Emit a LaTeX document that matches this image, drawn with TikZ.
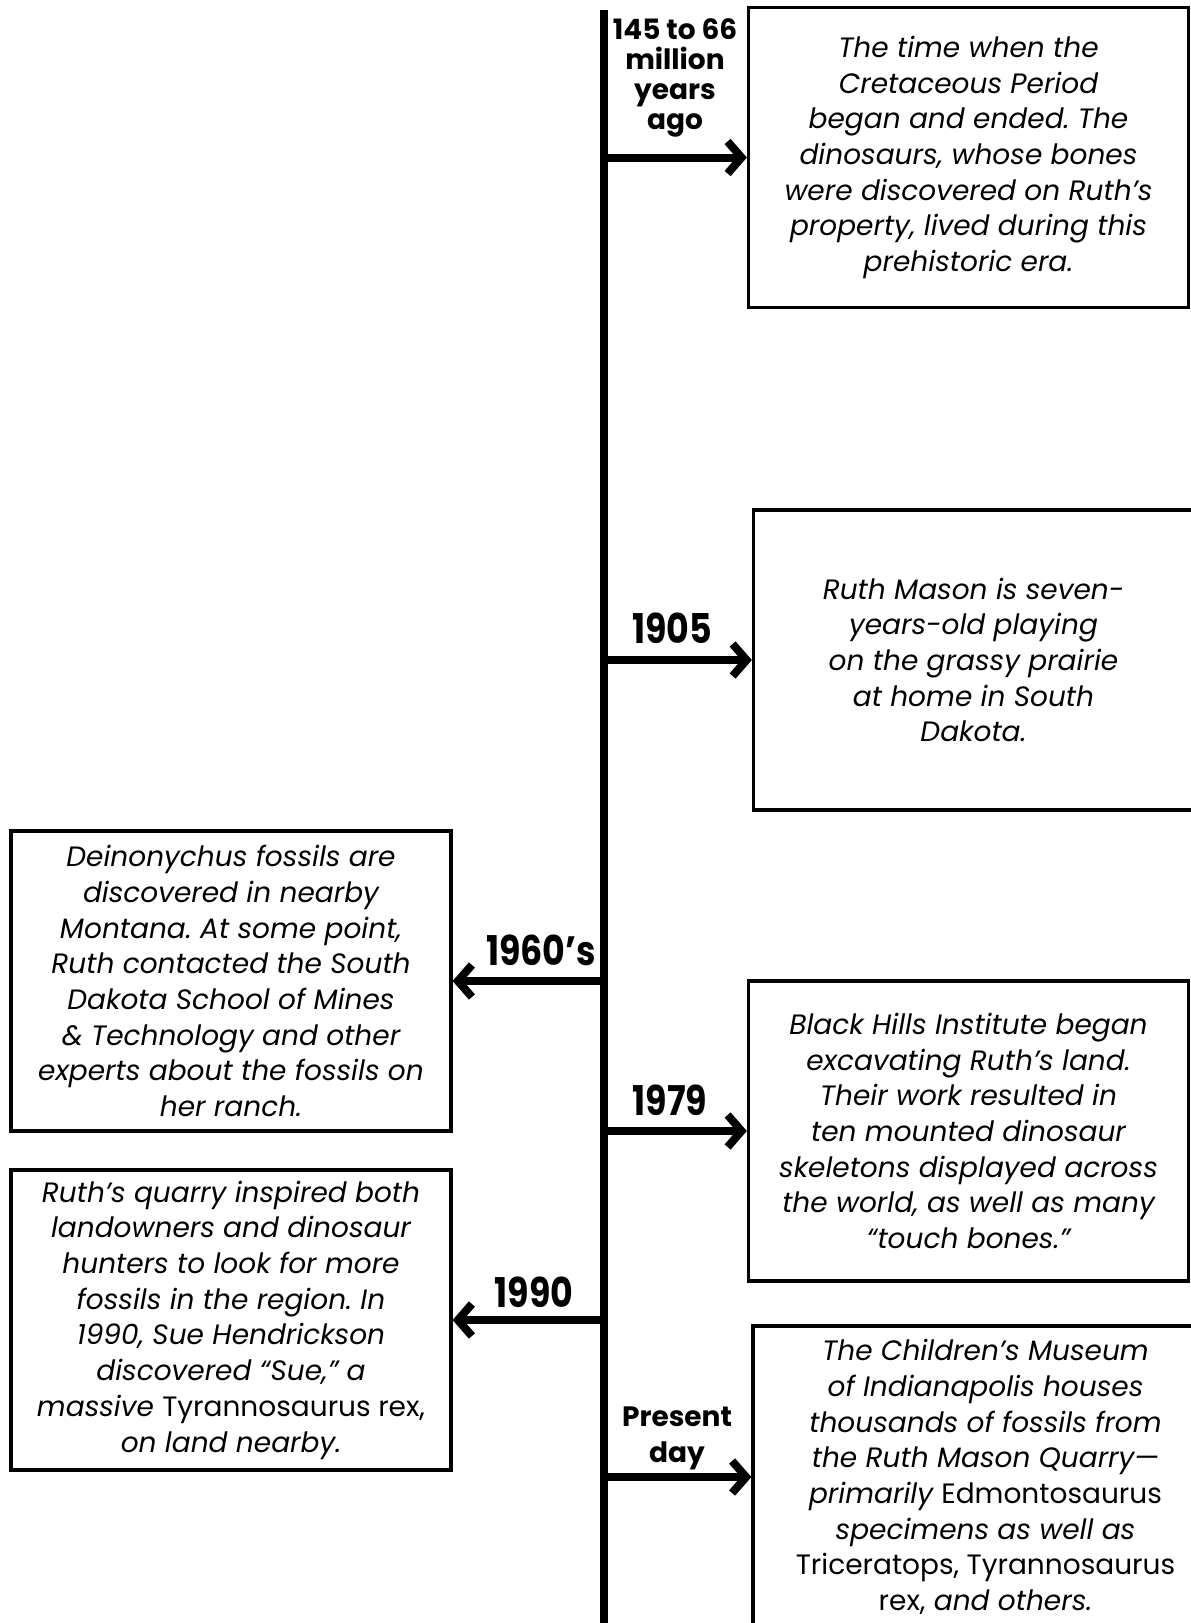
\documentclass[tikz,border=0pt]{standalone}
\usepackage{fontspec}
\setmainfont{Poppins}
\newfontfamily\yearfont[FakeStretch=0.85]{Poppins}
\usetikzlibrary{arrows.meta}
\frenchspacing

\begin{document}
\begin{tikzpicture}[x=0.5pt,y=-0.5pt,
  >={Straight Barb[length=7pt,width=16pt]},
  event/.style={draw,line width=1.6pt,align=center,inner sep=0pt,
    minimum width=220pt,minimum height=150pt,
    font=\fontsize{14}{17.85}\selectfont\itshape},
  yearlabel/.style={align=center,font=\fontsize{20.5}{22}\selectfont\yearfont\bfseries},
  eralabel/.style={align=center,font=\fontsize{14}{15}\selectfont\bfseries},
  link/.style={->,line width=4pt}]
\useasboundingbox (0,0) rectangle (1190,1623);
\coordinate (top) at (604,10);
\coordinate (bottom) at (604,1640);
\draw[line width=4pt] (top) -- (bottom);

\node[event] (cretaceous) at (968.5,157.5) {The time when the\\ Cretaceous Period\\ began and ended. The\\ dinosaurs, whose bones\\ were discovered on Ruth’s\\ property, lived during this\\ prehistoric era.};
\node[event] (ruth) at (973.5,660) {Ruth Mason is seven-\\ years-old playing\\ on the grassy prairie\\ at home in South\\ Dakota.};
\node[event] (deinonychus) at (231,981) {Deinonychus fossils are\\ discovered in nearby\\ Montana. At some point,\\ Ruth contacted the South\\ Dakota School of Mines\\ \& Technology and other\\ experts about the fossils on\\ her ranch.};
\node[event] (institute) at (968.5,1131) {Black Hills Institute began\\ excavating Ruth’s land.\\ Their work resulted in\\ ten mounted dinosaur\\ skeletons displayed across\\ the world, as well as many\\ “touch bones.”};
\node[event] (sue) at (231,1320) {Ruth’s quarry inspired both\\ landowners and dinosaur\\ hunters to look for more\\ fossils in the region. In\\ 1990, Sue Hendrickson\\ discovered “Sue,” a\\ massive {\upshape Tyrannosaurus rex,}\\ on land nearby.};
\node[event,minimum width=232.5pt,minimum height=151pt] (museum) at (985.5,1477) {The Children’s Museum\\ of Indianapolis houses\\ thousands of fossils from\\ the Ruth Mason Quarry—\\ primarily {\upshape Edmontosaurus}\\ specimens as well as\\ {\upshape Triceratops, Tyrannosaurus}\\ {\upshape rex,} and others.};

\coordinate (t1) at (604,157.5);
\coordinate (t2) at (604,660);
\coordinate (t3) at (604,981);
\coordinate (t4) at (604,1131);
\coordinate (t5) at (604,1320);
\coordinate (t6) at (604,1477);
\draw[link] (t1) -- (cretaceous);
\draw[link] (t2) -- (ruth);
\draw[link] (t3) -- (deinonychus);
\draw[link] (t4) -- (institute);
\draw[link] (t5) -- (sue);
\draw[link] (t6) -- (museum);

\node[eralabel] (l1) at (675,78) {145 to 66\\ million\\ years\\ ago};
\node[yearlabel] (l2) at (672,628) {1905};
\node[yearlabel] (l3) at (541,950) {1960’s};
\node[yearlabel] (l4) at (670,1100) {1979};
\node[yearlabel] (l5) at (534,1292) {1990};
\node[eralabel,font=\fontsize{14}{18}\selectfont\bfseries] (l6) at (677,1438) {Present\\ day};
\end{tikzpicture}
\end{document}
